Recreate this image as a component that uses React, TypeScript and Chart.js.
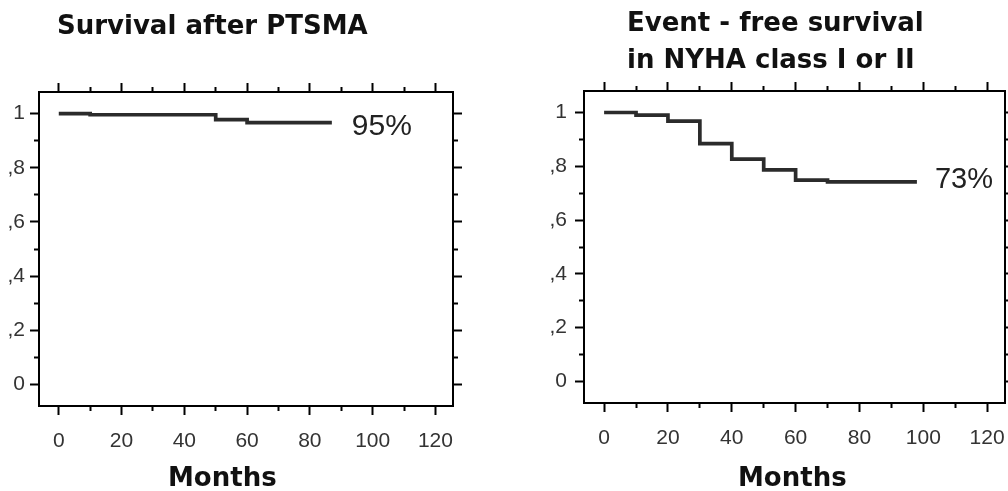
import React, { useEffect, useRef } from "react";
import { Chart, registerables } from "chart.js";

Chart.register(...registerables);

// ---- data ----
const leftMonths = [0, 10, 50, 60, 87];
const leftSurvival = [1, 0.996, 0.978, 0.967, 0.967];
const rightMonths = [0, 10, 20, 30, 40, 50, 60, 70, 98];
const rightSurvival = [1, 0.99, 0.968, 0.884, 0.827, 0.787, 0.749, 0.742, 0.742];

const xTickValues = [0, 10, 20, 30, 40, 50, 60, 70, 80, 90, 100, 110, 120];
const yTickValues = [0, 0.1, 0.2, 0.3, 0.4, 0.5, 0.6, 0.7, 0.8, 0.9, 1];

const leftTitle = ["Survival after PTSMA"];
const rightTitle = ["Event - free survival", "in NYHA class I or II"];
const xAxisLabel = "Months";
const leftEndLabel = "95%";
const rightEndLabel = "73%";

// ---- helpers ----
const isMajorX = (v: number) => Math.round(v) % 20 === 0;
const isMajorY = (v: number) => Math.round(v * 10) % 2 === 0;
const fmtY = (v: number) => {
  const k = Math.round(v * 10);
  if (k === 0) return "0";
  if (k === 10) return "1";
  return "," + k;
};

const endLabelPlugin = {
  id: "endLabel",
  afterDatasetsDraw(chart: any, _args: any, opts: any) {
    const meta = chart.getDatasetMeta(0);
    const pt = meta.data[meta.data.length - 1];
    if (!pt) return;
    const ctx = chart.ctx;
    ctx.save();
    ctx.font = opts.font;
    ctx.fillStyle = opts.color;
    ctx.textBaseline = "alphabetic";
    ctx.textAlign = "left";
    ctx.fillText(opts.text, pt.x + opts.dx, pt.y + opts.dy);
    ctx.restore();
  },
};

type PanelProps = {
  months: number[];
  values: number[];
  width: number;
  height: number;
  area: { left: number; right: number; top: number; bottom: number };
  yLabelPad: number;
  endLabel: { text: string; dx: number; dy: number; size: number };
};

const X_MIN = -6.3;
const X_MAX = 125.6;
const Y_MIN = -0.08;
const Y_MAX = 1.08;

function makeTickGrid(side: "outerFirst" | "innerFirst", isMajor: (v: number) => boolean) {
  return {
    drawOnChartArea: false,
    drawTicks: true,
    tickLength: 9,
    tickWidth: 2,
    tickColor: "#000",
    tickBorderDash: (c: any) => (c.tick && isMajor(c.tick.value) ? [] : [4, 100]),
    tickBorderDashOffset: (c: any) =>
      c.tick && isMajor(c.tick.value) ? 0 : side === "outerFirst" ? 100 : 0,
  };
}

const zeroPad = (s: any) => {
  s.paddingLeft = 0;
  s.paddingRight = 0;
  s.paddingTop = 0;
  s.paddingBottom = 0;
};

function Panel({ months, values, width, height, area, yLabelPad, endLabel }: PanelProps) {
  const ref = useRef<HTMLCanvasElement | null>(null);
  useEffect(() => {
    if (!ref.current) return;
    const border = { display: true, color: "#000", width: 2 };
    const tickFont = { family: "'Liberation Sans', Arial, sans-serif", size: 21 };
    const chart = new Chart(ref.current, {
      type: "line",
      data: {
        datasets: [
          {
            data: months.map((m, i) => ({ x: m, y: values[i] })),
            stepped: "before",
            borderColor: "#2b2b2b",
            borderWidth: 3.7,
            pointRadius: 0,
            fill: false,
            borderJoinStyle: "miter",
            borderCapStyle: "butt",
            xAxisID: "x",
            yAxisID: "y",
          } as any,
        ],
      },
      options: {
        responsive: false,
        animation: false,
        layout: { padding: 0 },
        plugins: {
          legend: { display: false },
          tooltip: { enabled: false },
          title: { display: false },
          endLabel: {
            text: endLabel.text,
            dx: endLabel.dx,
            dy: endLabel.dy,
            font: `${endLabel.size}px 'Liberation Sans', Arial, sans-serif`,
            color: "#222",
          },
        } as any,
        scales: {
          x: {
            type: "linear",
            position: "bottom",
            min: X_MIN,
            max: X_MAX,
            afterBuildTicks: (s: any) => {
              s.ticks = xTickValues.map((v) => ({ value: v }));
            },
            afterFit: (s: any) => {
              s.height = height - area.bottom;
              zeroPad(s);
            },
            border,
            grid: makeTickGrid("innerFirst", isMajorX),
            ticks: {
              autoSkip: false,
              maxRotation: 0,
              padding: 14,
              color: "#333",
              font: tickFont,
              callback: (v: any) => (isMajorX(Number(v)) ? String(v) : ""),
            },
          },
          x2: {
            type: "linear",
            position: "top",
            min: X_MIN,
            max: X_MAX,
            afterBuildTicks: (s: any) => {
              s.ticks = xTickValues.map((v) => ({ value: v }));
            },
            afterFit: (s: any) => {
              s.height = area.top;
              zeroPad(s);
            },
            border,
            grid: makeTickGrid("outerFirst", isMajorX),
            ticks: { display: false },
          },
          y: {
            type: "linear",
            position: "left",
            min: Y_MIN,
            max: Y_MAX,
            afterBuildTicks: (s: any) => {
              s.ticks = yTickValues.map((v) => ({ value: v }));
            },
            afterFit: (s: any) => {
              s.width = area.left;
              zeroPad(s);
            },
            border,
            grid: makeTickGrid("outerFirst", isMajorY),
            ticks: {
              autoSkip: false,
              padding: yLabelPad,
              color: "#333",
              font: tickFont,
              callback: (v: any) => (isMajorY(Number(v)) ? fmtY(Number(v)) : ""),
            },
          },
          y2: {
            type: "linear",
            position: "right",
            min: Y_MIN,
            max: Y_MAX,
            afterBuildTicks: (s: any) => {
              s.ticks = yTickValues.map((v) => ({ value: v }));
            },
            afterFit: (s: any) => {
              s.width = width - area.right;
              zeroPad(s);
            },
            border,
            grid: makeTickGrid("innerFirst", isMajorY),
            ticks: { display: false },
          },
        } as any,
      },
      plugins: [endLabelPlugin as any],
    });
    return () => chart.destroy();
  }, []);
  return <canvas ref={ref} width={width} height={height} style={{ width, height, display: "block" }} />;
}

const boldText: React.CSSProperties = {
  position: "absolute",
  fontFamily: "'DejaVu Sans', sans-serif",
  fontWeight: "bold",
  fontSize: 26,
  color: "#111",
  whiteSpace: "nowrap",
};

export default function App() {
  return (
    <div style={{ position: "absolute", left: 0, top: 0, width: 1008, height: 491, background: "#fff", overflow: "hidden" }}>
      <div style={{ position: "absolute", left: 0, top: 0 }}>
        <Panel
          months={leftMonths}
          values={leftSurvival}
          width={480}
          height={491}
          area={{ left: 39, right: 453, top: 92, bottom: 406 }}
          yLabelPad={5}
          endLabel={{ text: leftEndLabel, dx: 20, dy: 12.5, size: 30 }}
        />
      </div>
      <div style={{ position: "absolute", left: 500, top: 0 }}>
        <Panel
          months={rightMonths}
          values={rightSurvival}
          width={508}
          height={491}
          area={{ left: 84, right: 505, top: 91, bottom: 403 }}
          yLabelPad={8}
          endLabel={{ text: rightEndLabel, dx: 18, dy: 6, size: 29 }}
        />
      </div>
      <div style={{ ...boldText, left: 57, top: 10, lineHeight: "30px" }}>
        {leftTitle.map((t) => (
          <div key={t}>{t}</div>
        ))}
      </div>
      <div style={{ ...boldText, left: 627, top: 4, lineHeight: "36.6px" }}>
        {rightTitle.map((t) => (
          <div key={t}>{t}</div>
        ))}
      </div>
      <div style={{ ...boldText, left: 168, top: 462, lineHeight: "30px" }}>{xAxisLabel}</div>
      <div style={{ ...boldText, left: 738, top: 462, lineHeight: "30px" }}>{xAxisLabel}</div>
    </div>
  );
}
